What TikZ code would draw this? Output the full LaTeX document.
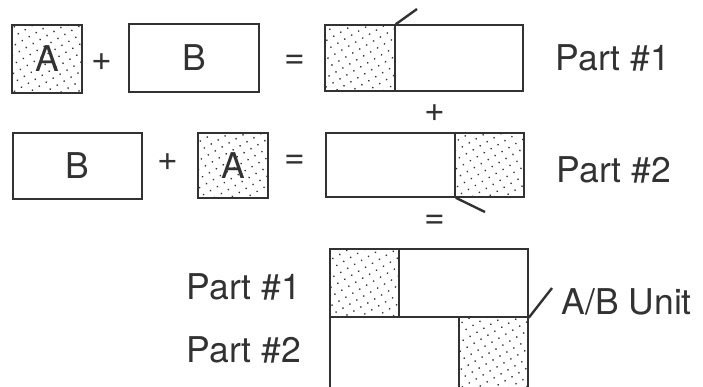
\documentclass[tikz,border=0pt]{standalone}
\usepackage{fontspec}
\setmainfont{TeX Gyre Heros}
\usetikzlibrary{patterns.meta}
\definecolor{inkgray}{RGB}{50,50,50}

\begin{document}
\begin{tikzpicture}[x=1pt, y=-1pt, line width=1.5pt, draw=inkgray, text=inkgray,
  font=\fontsize{35.5}{40}\selectfont,
  sym/.style={inner sep=0pt},
  lab/.style={inner sep=0pt, anchor=west},
  plain/.style={draw, inner sep=0pt, minimum height=66pt},
  dotbox/.style={plain, pattern={Dots[distance=8pt, radius=0.95pt, angle=30]}, pattern color=inkgray},
  tick/.style={line width=2.4pt}]
\clip (0,0) rectangle (703,386);
\node[dotbox, minimum width=70pt, minimum height=68pt] (a1) at (47,59) {A};
\node[sym] (plus1) at (102,62) {+};
\node[plain, minimum width=130pt, minimum height=68pt] (b1) at (194,58) {B};
\node[sym] (eq1) at (295,62) {=};
\node[dotbox, minimum width=70pt] (p1a) at (360,58) {};
\node[plain, minimum width=128pt] (p1b) at (459,58) {};
\coordinate (t1) at (417,9);
\draw[tick] (p1a.north east) -- (t1);
\node[lab] (part1) at (555,58) {Part \#1};
\node[sym] (plus2) at (435,113) {+};
\node[plain, minimum width=129pt] (b2) at (77.5,166) {B};
\node[sym] (plus3) at (168,162) {+};
\node[dotbox, minimum width=70pt, minimum height=65pt] (a2) at (233,165.5) {A};
\node[sym] (eq2) at (295,162) {=};
\node[plain, minimum width=129pt, minimum height=64pt] (p2a) at (390.5,165) {};
\node[dotbox, minimum width=69pt, minimum height=64pt] (p2b) at (489.5,165) {};
\coordinate (t2) at (485,212);
\draw[tick] (p2a.south east) -- (t2);
\node[lab] (part2) at (556,170) {Part \#2};
\node[sym] (eq3) at (435,222) {=};
\node[dotbox, minimum width=69pt, minimum height=68pt] (u1a) at (364.5,283) {};
\node[plain, minimum width=129pt, minimum height=68pt] (u1b) at (463.5,283) {};
\node[plain, minimum width=129pt, minimum height=78pt] (u2a) at (394.5,356) {};
\node[dotbox, minimum width=69pt, minimum height=78pt] (u2b) at (493.5,356) {};
\coordinate (t3) at (552,288);
\draw[tick] (u1b.south east) -- (t3);
\node[lab] (unit) at (561,302) {A/B Unit};
\node[lab] (upart1) at (186,287) {Part \#1};
\node[lab] (upart2) at (186,350) {Part \#2};
\end{tikzpicture}
\end{document}
